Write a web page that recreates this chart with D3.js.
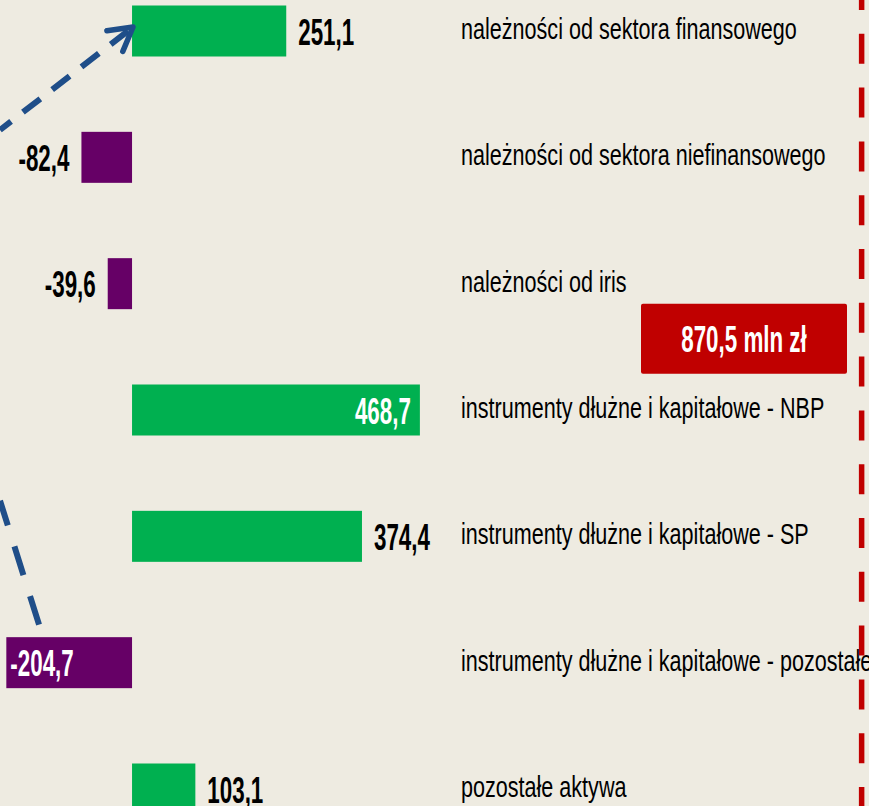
<!DOCTYPE html>
<html>
<head>
<meta charset="utf-8">
<script src="https://cdn.jsdelivr.net/npm/d3@7"></script>
<style>
  html, body { margin: 0; padding: 0; background: #EEEBE1; }
  svg { display: block; }
</style>
</head>
<body>
<svg id="chart" width="869" height="806"></svg>
<script>
// dane (mln zł)
var categories = [
	"należności od sektora finansowego",
	"należności od sektora niefinansowego",
	"należności od iris",
	"instrumenty dłużne i kapitałowe - NBP",
	"instrumenty dłużne i kapitałowe - SP",
	"instrumenty dłużne i kapitałowe - pozostałe",
	"pozostałe aktywa"
];
var values = [251.1, -82.4, -39.6, 468.7, 374.4, -204.7, 103.1];
var insideLabels = ["instrumenty dłużne i kapitałowe - NBP", "instrumenty dłużne i kapitałowe - pozostałe"];
var totalLabel = "870,5 mln zł";
var totalLineValue = 1188;

var svg = d3.select("#chart"),
	width = +svg.attr("width"),
	height = +svg.attr("height");

var FONT = "'Liberation Sans', Arial, sans-serif";
var green = "#00B050", purple = "#660066", red = "#C00000", blue = "#1F4E89";

var x = d3.scaleLinear().domain([-215, 1200]).range([0, width]);
var y = d3.scalePoint().domain(categories).range([31, 789]);
var barH = 51;

// przecinek dziesietny i zwykly minus jak w oryginale
var fmt = function(v) { return (v < 0 ? "-" : "") + d3.format(".1f")(Math.abs(v)).replace(".", ","); };

svg.append("rect").attr("width", width).attr("height", height).attr("fill", "#EEEBE1");

var defs = svg.append("defs");
defs.append("marker")
	.attr("id", "arrow")
	.attr("viewBox", "-28 -16 31 32")
	.attr("refX", 0)
	.attr("refY", 0)
	.attr("markerWidth", 31)
	.attr("markerHeight", 32)
	.attr("markerUnits", "userSpaceOnUse")
	.attr("orient", "auto")
	.append("path")
	.attr("d", "M-23,-13L0,0L-23,13")
	.attr("fill", "none")
	.attr("stroke", blue)
	.attr("stroke-width", 5.5)
	.attr("stroke-linecap", "round")
	.attr("stroke-linejoin", "round");

var g = svg.append("g");

// slupki
g.append("g").selectAll("rect")
	.data(values)
	.enter().append("rect")
		.attr("x", function(d) { return x(Math.min(0, d)); })
		.attr("y", function(d, i) { return y(categories[i]) - barH / 2; })
		.attr("width", function(d) { return Math.abs(x(d) - x(0)); })
		.attr("height", barH)
		.attr("fill", function(d) { return d >= 0 ? green : purple; });

// etykiety wartosci (waski, wysoki krój jak w oryginale)
var valFs = 26, valSx = 0.86, valSy = 1.45;
g.append("g").selectAll("text")
	.data(values)
	.enter().append("text")
		.attr("transform", function(d, i) {
			var inside = insideLabels.indexOf(categories[i]) != -1;
			var px;
			if (inside) px = d >= 0 ? x(d) - 9 : x(d) + 4;
			else px = d >= 0 ? x(d) + 12 : x(d) - 12;
			return "translate(" + px + "," + y(categories[i]) + ") scale(" + valSx + "," + valSy + ")";
		})
		.attr("y", valFs * 0.716 / 2)
		.attr("text-anchor", function(d, i) {
			var inside = insideLabels.indexOf(categories[i]) != -1;
			return (d >= 0) == inside ? "end" : "start";
		})
		.attr("fill", function(d, i) { return insideLabels.indexOf(categories[i]) != -1 ? "#fff" : "#000"; })
		.style("font-family", FONT)
		.style("font-weight", "bold")
		.style("font-size", valFs + "px")
		.text(function(d) { return fmt(d); });

// nazwy kategorii
var catFs = 26, catSx = 0.83, catSy = 1.13;
g.append("g").selectAll("text")
	.data(categories)
	.enter().append("text")
		.attr("transform", function(d) { return "translate(461," + y(d) + ") scale(" + catSx + "," + catSy + ")"; })
		.attr("y", 8 / catSy)
		.attr("fill", "#000")
		.style("font-family", FONT)
		.style("font-size", catFs + "px")
		.text(function(d) { return d; });

// strzalki
g.append("line")
	.attr("x1", x(-215)).attr("y1", y(categories[0]) + 99)
	.attr("x2", x(0) + 1).attr("y2", y(categories[0]) - 4)
	.attr("stroke", blue).attr("stroke-width", 6)
	.attr("stroke-dasharray", "22,15")
	.attr("stroke-dashoffset", 8)
	.attr("marker-end", "url(#arrow)");

g.append("line")
	.attr("x1", x(-215)).attr("y1", y(categories[5]) - 162)
	.attr("x2", x(-145)).attr("y2", y(categories[5]) - barH / 2)
	.attr("stroke", blue).attr("stroke-width", 6)
	.attr("stroke-dasharray", "30,22")
	.attr("stroke-dashoffset", 4);

// linia sumy
g.append("line")
	.attr("x1", x(totalLineValue)).attr("x2", x(totalLineValue))
	.attr("y1", 0).attr("y2", height)
	.attr("stroke", red).attr("stroke-width", 5.5)
	.attr("stroke-dasharray", "30,23.8")
	.attr("stroke-dashoffset", 20);

// ramka z suma
var box = g.append("g").attr("transform", "translate(744," + ((y(categories[2]) + y(categories[3])) / 2 - 8) + ")");
box.append("rect")
	.attr("x", -103).attr("y", -35).attr("width", 206).attr("height", 70)
	.attr("rx", 2)
	.attr("fill", red);
box.append("text")
	.attr("transform", "scale(" + valSx + "," + valSy + ")")
	.attr("y", valFs * 0.716 / 2)
	.attr("text-anchor", "middle")
	.attr("fill", "#fff")
	.style("font-family", FONT)
	.style("font-weight", "bold")
	.style("font-size", valFs + "px")
	.text(totalLabel);
</script>
</body>
</html>
